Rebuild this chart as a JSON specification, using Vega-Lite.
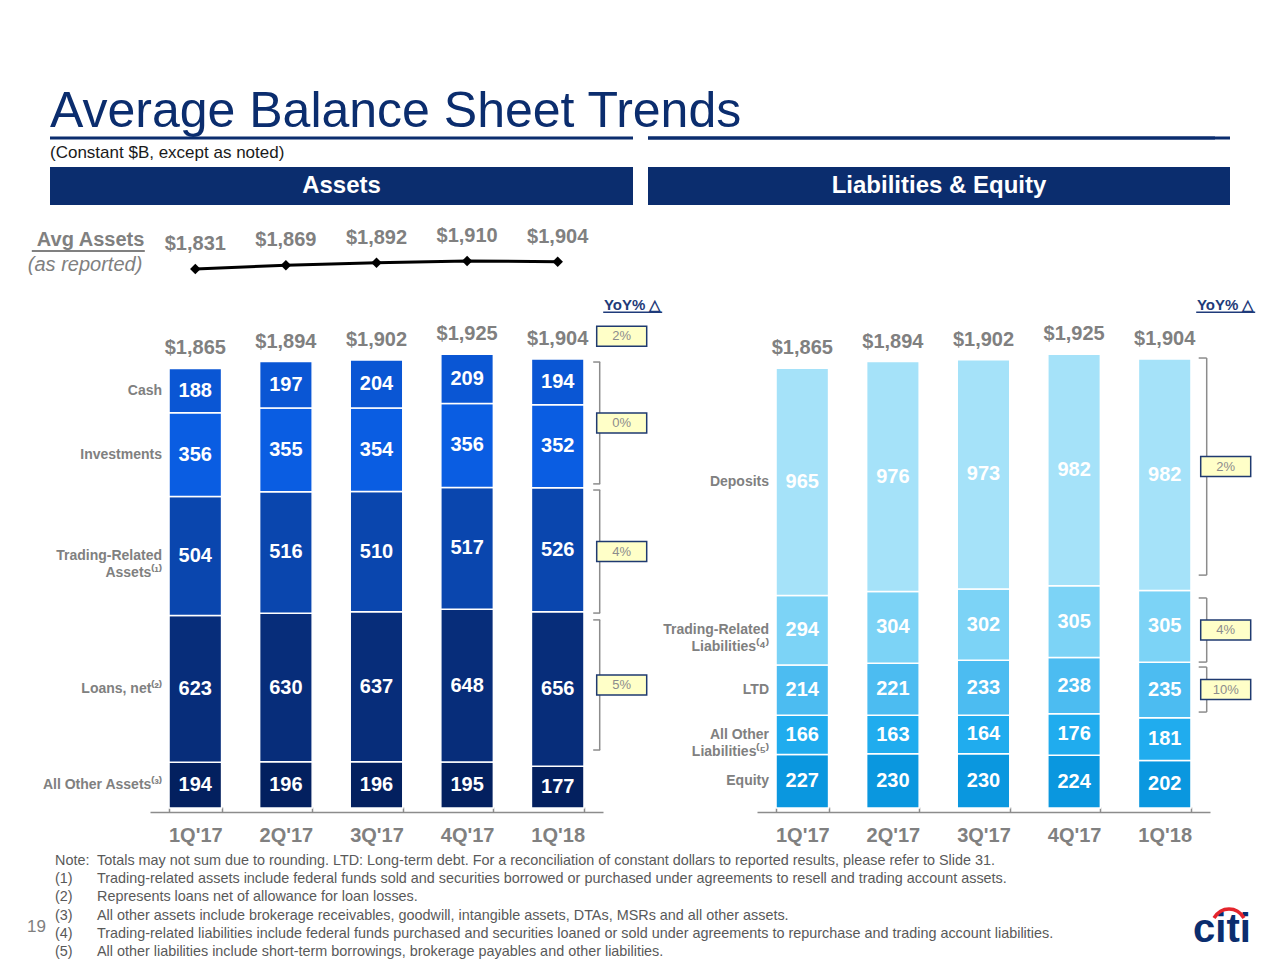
{
  "$schema": "https://vega.github.io/schema/vega-lite/v6.json",
  "background": "white",
  "padding": {"left": 27, "top": 86, "right": 5, "bottom": 0},
  "config": {"view": {"stroke": null}, "font": "Liberation Sans",
    "axisX": {"title": null, "labelAngle": 0, "domainColor": "#8C8C8C", "domainWidth": 1.5, "tickColor": "#8C8C8C", "tickWidth": 1.5, "tickSize": -5, "tickBand": "extent", "labelFontSize": 20, "labelFontWeight": "bold", "labelColor": "#808080", "labelPadding": 18, "offset": 4, "grid": false}},
  "title": {"text": "Average Balance Sheet Trends", "anchor": "start", "frame": "group", "fontSize": 50, "fontWeight": "normal", "color": "#0B2D6E", "offset": 0},
  "resolve": {"scale": {"color": "independent"}},
  "datasets": {
    "sections": [{"section": "Assets"}, {"section": "Liabilities & Equity"}],
    "avg": [
      {"quarter": "1Q'17", "avg": 1831},
      {"quarter": "2Q'17", "avg": 1869},
      {"quarter": "3Q'17", "avg": 1892},
      {"quarter": "4Q'17", "avg": 1910},
      {"quarter": "1Q'18", "avg": 1904}
    ],
    "assets": [
      {"quarter": "1Q'17", "category": "All Other Assets⁽³⁾", "value": 194, "rank": 1},
      {"quarter": "1Q'17", "category": "Loans, net⁽²⁾", "value": 623, "rank": 2},
      {"quarter": "1Q'17", "category": "Trading-Related\nAssets⁽¹⁾", "value": 504, "rank": 3},
      {"quarter": "1Q'17", "category": "Investments", "value": 356, "rank": 4},
      {"quarter": "1Q'17", "category": "Cash", "value": 188, "rank": 5},
      {"quarter": "2Q'17", "category": "All Other Assets⁽³⁾", "value": 196, "rank": 1},
      {"quarter": "2Q'17", "category": "Loans, net⁽²⁾", "value": 630, "rank": 2},
      {"quarter": "2Q'17", "category": "Trading-Related\nAssets⁽¹⁾", "value": 516, "rank": 3},
      {"quarter": "2Q'17", "category": "Investments", "value": 355, "rank": 4},
      {"quarter": "2Q'17", "category": "Cash", "value": 197, "rank": 5},
      {"quarter": "3Q'17", "category": "All Other Assets⁽³⁾", "value": 196, "rank": 1},
      {"quarter": "3Q'17", "category": "Loans, net⁽²⁾", "value": 637, "rank": 2},
      {"quarter": "3Q'17", "category": "Trading-Related\nAssets⁽¹⁾", "value": 510, "rank": 3},
      {"quarter": "3Q'17", "category": "Investments", "value": 354, "rank": 4},
      {"quarter": "3Q'17", "category": "Cash", "value": 204, "rank": 5},
      {"quarter": "4Q'17", "category": "All Other Assets⁽³⁾", "value": 195, "rank": 1},
      {"quarter": "4Q'17", "category": "Loans, net⁽²⁾", "value": 648, "rank": 2},
      {"quarter": "4Q'17", "category": "Trading-Related\nAssets⁽¹⁾", "value": 517, "rank": 3},
      {"quarter": "4Q'17", "category": "Investments", "value": 356, "rank": 4},
      {"quarter": "4Q'17", "category": "Cash", "value": 209, "rank": 5},
      {"quarter": "1Q'18", "category": "All Other Assets⁽³⁾", "value": 177, "rank": 1},
      {"quarter": "1Q'18", "category": "Loans, net⁽²⁾", "value": 656, "rank": 2},
      {"quarter": "1Q'18", "category": "Trading-Related\nAssets⁽¹⁾", "value": 526, "rank": 3},
      {"quarter": "1Q'18", "category": "Investments", "value": 352, "rank": 4},
      {"quarter": "1Q'18", "category": "Cash", "value": 194, "rank": 5}
    ],
    "liabs": [
      {"quarter": "1Q'17", "category": "Equity", "value": 227, "rank": 1},
      {"quarter": "1Q'17", "category": "All Other\nLiabilities⁽⁵⁾", "value": 166, "rank": 2},
      {"quarter": "1Q'17", "category": "LTD", "value": 214, "rank": 3},
      {"quarter": "1Q'17", "category": "Trading-Related\nLiabilities⁽⁴⁾", "value": 294, "rank": 4},
      {"quarter": "1Q'17", "category": "Deposits", "value": 965, "rank": 5},
      {"quarter": "2Q'17", "category": "Equity", "value": 230, "rank": 1},
      {"quarter": "2Q'17", "category": "All Other\nLiabilities⁽⁵⁾", "value": 163, "rank": 2},
      {"quarter": "2Q'17", "category": "LTD", "value": 221, "rank": 3},
      {"quarter": "2Q'17", "category": "Trading-Related\nLiabilities⁽⁴⁾", "value": 304, "rank": 4},
      {"quarter": "2Q'17", "category": "Deposits", "value": 976, "rank": 5},
      {"quarter": "3Q'17", "category": "Equity", "value": 230, "rank": 1},
      {"quarter": "3Q'17", "category": "All Other\nLiabilities⁽⁵⁾", "value": 164, "rank": 2},
      {"quarter": "3Q'17", "category": "LTD", "value": 233, "rank": 3},
      {"quarter": "3Q'17", "category": "Trading-Related\nLiabilities⁽⁴⁾", "value": 302, "rank": 4},
      {"quarter": "3Q'17", "category": "Deposits", "value": 973, "rank": 5},
      {"quarter": "4Q'17", "category": "Equity", "value": 224, "rank": 1},
      {"quarter": "4Q'17", "category": "All Other\nLiabilities⁽⁵⁾", "value": 176, "rank": 2},
      {"quarter": "4Q'17", "category": "LTD", "value": 238, "rank": 3},
      {"quarter": "4Q'17", "category": "Trading-Related\nLiabilities⁽⁴⁾", "value": 305, "rank": 4},
      {"quarter": "4Q'17", "category": "Deposits", "value": 982, "rank": 5},
      {"quarter": "1Q'18", "category": "Equity", "value": 202, "rank": 1},
      {"quarter": "1Q'18", "category": "All Other\nLiabilities⁽⁵⁾", "value": 181, "rank": 2},
      {"quarter": "1Q'18", "category": "LTD", "value": 235, "rank": 3},
      {"quarter": "1Q'18", "category": "Trading-Related\nLiabilities⁽⁴⁾", "value": 305, "rank": 4},
      {"quarter": "1Q'18", "category": "Deposits", "value": 982, "rank": 5}
    ],
    "totals": [
      {"quarter": "1Q'17", "total": 1865},
      {"quarter": "2Q'17", "total": 1894},
      {"quarter": "3Q'17", "total": 1902},
      {"quarter": "4Q'17", "total": 1925},
      {"quarter": "1Q'18", "total": 1904}
    ],
    "totalYoY": [{"quarter": "1Q'18", "total": 1904, "yoy": "2%"}],
    "assetYoY": [
      {"item": "Cash & Investments", "yoy": "0%", "lo": 1375, "hi": 1892},
      {"item": "Trading-Related Assets", "yoy": "4%", "lo": 827, "hi": 1349},
      {"item": "Loans, net", "yoy": "5%", "lo": 246, "hi": 798}
    ],
    "liabYoY": [
      {"item": "Deposits", "yoy": "2%", "lo": 988, "hi": 1909},
      {"item": "Trading-Related Liabilities", "yoy": "4%", "lo": 619, "hi": 891},
      {"item": "LTD", "yoy": "10%", "lo": 407, "hi": 598}
    ],
    "notes": [
      {"n": 1, "mark": "Note:", "body": "Totals may not sum due to rounding.  LTD: Long-term debt.  For a reconciliation of constant dollars to reported results, please refer to Slide 31."},
      {"n": 2, "mark": "(1)", "body": "Trading-related assets include federal funds sold and securities borrowed or purchased under agreements to resell and trading account assets."},
      {"n": 3, "mark": "(2)", "body": "Represents loans net of allowance for loan losses."},
      {"n": 4, "mark": "(3)", "body": "All other assets include brokerage receivables, goodwill, intangible assets, DTAs, MSRs and all other assets."},
      {"n": 5, "mark": "(4)", "body": "Trading-related liabilities include federal funds purchased and securities loaned or sold under agreements to repurchase and trading account liabilities."},
      {"n": 6, "mark": "(5)", "body": "All other liabilities include short-term borrowings, brokerage payables and other liabilities."}
    ],
    "page": [{"page": "19"}],
    "logo": [{"brand": "citi"}]
  },
  "columns": 2,
  "spacing": {"row": 0, "column": 15},
  "bounds": "flush",
  "concat": [
    {
      "width": 583, "height": 29,
      "data": {"name": "sections"},
      "transform": [{"filter": {"field": "section", "equal": "Assets"}}],
      "mark": {"type": "rule", "color": "#0B2D6E", "strokeWidth": 3},
      "encoding": {"y": {"datum": 1, "type": "quantitative", "scale": {"domain": [0, 1]}, "axis": null}}
    },
    {
      "width": 582, "height": 29,
      "data": {"name": "sections"},
      "transform": [{"filter": {"field": "section", "equal": "Liabilities & Equity"}}],
      "layer": [
        {"mark": {"type": "rule", "color": "#0B2D6E", "strokeWidth": 3, "xOffset": -15},
         "encoding": {"y": {"datum": 1, "type": "quantitative", "scale": {"domain": [0, 1]}, "axis": null}}},
        {"mark": {"type": "rule", "color": "#0B2D6E", "strokeWidth": 3},
         "encoding": {"y": {"datum": 1, "type": "quantitative", "scale": {"domain": [0, 1]}, "axis": null}}}
      ]
    },
    {
      "width": 583, "height": 38,
      "data": {"name": "sections"},
      "transform": [{"filter": {"field": "section", "equal": "Assets"}}],
      "title": {"text": "(Constant $B, except as noted)", "anchor": "start", "fontSize": 17, "fontWeight": "normal", "color": "#1A1A1A", "offset": 5},
      "layer": [
        {"mark": {"type": "bar", "color": "#0B2D6E"},
         "encoding": {"x": {"field": "section", "type": "nominal", "axis": null, "scale": {"paddingInner": 0, "paddingOuter": 0}}}},
        {"mark": {"type": "text", "color": "white", "fontSize": 24, "fontWeight": "bold"},
         "encoding": {"x": {"field": "section", "type": "nominal", "axis": null}, "text": {"field": "section"}}}
      ]
    },
    {
      "width": 582, "height": 38,
      "data": {"name": "sections"},
      "transform": [{"filter": {"field": "section", "equal": "Liabilities & Equity"}}],
      "layer": [
        {"mark": {"type": "bar", "color": "#0B2D6E"},
         "encoding": {"x": {"field": "section", "type": "nominal", "axis": null, "scale": {"paddingInner": 0, "paddingOuter": 0}}}},
        {"mark": {"type": "text", "color": "white", "fontSize": 24, "fontWeight": "bold"},
         "encoding": {"x": {"field": "section", "type": "nominal", "axis": null}, "text": {"field": "section"}}}
      ]
    },
    {
      "width": 583, "height": 108,
      "data": {"name": "avg"},
      "encoding": {
        "x": {"field": "quarter", "type": "ordinal", "scale": {"domain": ["1Q'17", "2Q'17", "3Q'17", "4Q'17", "1Q'18"], "range": [100, 553], "paddingInner": 0.42, "paddingOuter": 0.21}, "axis": null},
        "y": {"field": "avg", "type": "quantitative", "scale": {"domain": [1397, 2463], "nice": false, "zero": false}, "axis": null}
      },
      "layer": [
        {"mark": {"type": "line", "color": "black", "strokeWidth": 3}},
        {"mark": {"type": "point", "shape": "diamond", "filled": true, "color": "black", "size": 110, "opacity": 1}},
        {"mark": {"type": "text", "fontSize": 20, "fontWeight": "bold", "color": "#808080", "dy": -25},
         "encoding": {"text": {"field": "avg", "type": "quantitative", "format": "$,d"}}},
        {"transform": [{"filter": {"field": "quarter", "equal": "1Q'17"}}],
         "mark": {"type": "text", "align": "right", "dx": -51, "dy": -29, "fontSize": 20, "fontWeight": "bold", "color": "#808080"},
         "encoding": {"text": {"value": "Avg Assets"}}},
        {"transform": [{"filter": {"field": "quarter", "equal": "1Q'17"}}],
         "mark": {"type": "text", "align": "right", "dx": -53, "dy": -4, "fontSize": 20, "fontStyle": "italic", "color": "#808080"},
         "encoding": {"text": {"value": "(as reported)"}}},
        {"transform": [{"filter": {"field": "quarter", "equal": "1Q'17"}}],
         "mark": {"type": "tick", "orient": "horizontal", "size": 113, "thickness": 2, "color": "#808080", "opacity": 1, "xOffset": -107, "yOffset": -18}}
      ]
    },
    {
      "width": 582, "height": 108,
      "data": {"values": []},
      "mark": "point"
    },
    {
      "width": 583, "height": 495,
      "encoding": {
        "x": {"field": "quarter", "type": "ordinal", "scale": {"domain": ["1Q'17", "2Q'17", "3Q'17", "4Q'17", "1Q'18"], "range": [100, 553], "paddingInner": 0.42, "paddingOuter": 0.21}}
      },
      "layer": [
        {"data": {"name": "assets"},
         "mark": {"type": "bar", "stroke": "white", "strokeWidth": 1.5},
         "encoding": {
           "y": {"field": "value", "type": "quantitative", "stack": "zero", "scale": {"domain": [0, 2100], "nice": false}, "axis": null},
           "color": {"field": "category", "type": "nominal", "legend": null,
                     "scale": {"domain": ["All Other Assets⁽³⁾", "Loans, net⁽²⁾", "Trading-Related\nAssets⁽¹⁾", "Investments", "Cash"],
                               "range": ["#03205F", "#072D7A", "#0A46AE", "#0A5DE2", "#0A56D4"]}},
           "order": {"field": "rank", "type": "quantitative"}
         }},
        {"data": {"name": "assets"},
         "mark": {"type": "text", "color": "white", "fontSize": 20, "fontWeight": "bold"},
         "encoding": {
           "y": {"field": "value", "type": "quantitative", "stack": "zero", "bandPosition": 0.5, "scale": {"domain": [0, 2100], "nice": false}, "axis": null},
           "detail": {"field": "category"},
           "order": {"field": "rank", "type": "quantitative"},
           "text": {"field": "value", "type": "quantitative"}
         }},
        {"data": {"name": "assets"},
         "transform": [{"filter": {"field": "quarter", "equal": "1Q'17"}}],
         "mark": {"type": "text", "align": "right", "dx": -7, "fontSize": 14, "fontWeight": "bold", "color": "#808080", "lineBreak": "\n", "lineHeight": 17},
         "encoding": {
           "x": {"field": "quarter", "type": "ordinal", "bandPosition": 0},
           "y": {"field": "value", "type": "quantitative", "stack": "zero", "bandPosition": 0.5, "scale": {"domain": [0, 2100], "nice": false}, "axis": null},
           "detail": {"field": "category"},
           "order": {"field": "rank", "type": "quantitative"},
           "text": {"field": "category"}
         }},
        {"data": {"name": "totals"},
         "mark": {"type": "text", "fontSize": 20, "fontWeight": "bold", "color": "#808080", "dy": -20},
         "encoding": {
           "y": {"field": "total", "type": "quantitative", "scale": {"domain": [0, 2100], "nice": false}, "axis": null},
           "text": {"field": "total", "type": "quantitative", "format": "$,d"}
         }},
        {"data": {"name": "assetYoY"},
         "mark": {"type": "rule", "color": "#8C8C8C", "strokeWidth": 1.5, "xOffset": 42},
         "encoding": {
           "x": {"datum": "1Q'18", "type": "ordinal"},
           "y": {"field": "lo", "type": "quantitative", "scale": {"domain": [0, 2100], "nice": false}, "axis": null},
           "y2": {"field": "hi"}
         }},
        {"data": {"name": "assetYoY"},
         "mark": {"type": "tick", "orient": "horizontal", "size": 7, "thickness": 1.5, "color": "#8C8C8C", "opacity": 1, "xOffset": 39},
         "encoding": {
           "x": {"datum": "1Q'18", "type": "ordinal"},
           "y": {"field": "hi", "type": "quantitative", "scale": {"domain": [0, 2100], "nice": false}, "axis": null}
         }},
        {"data": {"name": "assetYoY"},
         "mark": {"type": "tick", "orient": "horizontal", "size": 7, "thickness": 1.5, "color": "#8C8C8C", "opacity": 1, "xOffset": 39},
         "encoding": {
           "x": {"datum": "1Q'18", "type": "ordinal"},
           "y": {"field": "lo", "type": "quantitative", "scale": {"domain": [0, 2100], "nice": false}, "axis": null}
         }},
        {"data": {"name": "assetYoY"},
         "transform": [{"fold": ["lo", "hi"], "as": ["end", "v"]}],
         "mark": {"type": "point", "shape": "M-1.25,-0.5H1.25V0.5H-1.25Z", "size": 1600, "filled": true, "fill": "#FFFFC8", "stroke": "#1F3A70", "strokeWidth": 1.5, "opacity": 1, "xOffset": 64},
         "encoding": {
           "x": {"datum": "1Q'18", "type": "ordinal"},
           "y": {"aggregate": "mean", "field": "v", "type": "quantitative", "scale": {"domain": [0, 2100], "nice": false}, "axis": null},
           "detail": {"field": "item"}
         }},
        {"data": {"name": "assetYoY"},
         "transform": [{"fold": ["lo", "hi"], "as": ["end", "v"]}],
         "mark": {"type": "text", "fontSize": 13, "color": "#8C8C8C", "dx": 64},
         "encoding": {
           "x": {"datum": "1Q'18", "type": "ordinal"},
           "y": {"aggregate": "mean", "field": "v", "type": "quantitative", "scale": {"domain": [0, 2100], "nice": false}, "axis": null},
           "detail": {"field": "item"},
           "text": {"field": "yoy"}
         }},
        {"data": {"name": "totalYoY"},
         "mark": {"type": "point", "shape": "M-1.25,-0.5H1.25V0.5H-1.25Z", "size": 1600, "filled": true, "fill": "#FFFFC8", "stroke": "#1F3A70", "strokeWidth": 1.5, "opacity": 1, "xOffset": 64, "yOffset": -23},
         "encoding": {
           "y": {"field": "total", "type": "quantitative", "scale": {"domain": [0, 2100], "nice": false}, "axis": null}
         }},
        {"data": {"name": "totalYoY"},
         "mark": {"type": "text", "fontSize": 13, "color": "#8C8C8C", "dx": 64, "dy": -23},
         "encoding": {
           "y": {"field": "total", "type": "quantitative", "scale": {"domain": [0, 2100], "nice": false}, "axis": null},
           "text": {"field": "yoy"}
         }},
        {"data": {"name": "totalYoY"},
         "mark": {"type": "text", "fontSize": 15, "fontWeight": "bold", "color": "#1F3B7A", "dx": 75, "dy": -54},
         "encoding": {
           "y": {"field": "total", "type": "quantitative", "scale": {"domain": [0, 2100], "nice": false}, "axis": null},
           "text": {"value": "YoY% △"}
         }},
        {"data": {"name": "totalYoY"},
         "mark": {"type": "tick", "orient": "horizontal", "size": 59, "thickness": 1.5, "color": "#1F3B7A", "opacity": 1, "xOffset": 75, "yOffset": -47},
         "encoding": {
           "y": {"field": "total", "type": "quantitative", "scale": {"domain": [0, 2100], "nice": false}, "axis": null}
         }}
      ]
    },
    {
      "width": 582, "height": 495,
      "encoding": {
        "x": {"field": "quarter", "type": "ordinal", "scale": {"domain": ["1Q'17", "2Q'17", "3Q'17", "4Q'17", "1Q'18"], "range": [109, 562], "paddingInner": 0.42, "paddingOuter": 0.21}}
      },
      "layer": [
        {"data": {"name": "liabs"},
         "mark": {"type": "bar", "stroke": "white", "strokeWidth": 1.5},
         "encoding": {
           "y": {"field": "value", "type": "quantitative", "stack": "zero", "scale": {"domain": [0, 2100], "nice": false}, "axis": null},
           "color": {"field": "category", "type": "nominal", "legend": null,
                     "scale": {"domain": ["Equity", "All Other\nLiabilities⁽⁵⁾", "LTD", "Trading-Related\nLiabilities⁽⁴⁾", "Deposits"],
                               "range": ["#0A97DF", "#20ACEE", "#4CBCF1", "#7CD3F6", "#A5E2F9"]}},
           "order": {"field": "rank", "type": "quantitative"}
         }},
        {"data": {"name": "liabs"},
         "mark": {"type": "text", "color": "white", "fontSize": 20, "fontWeight": "bold"},
         "encoding": {
           "y": {"field": "value", "type": "quantitative", "stack": "zero", "bandPosition": 0.5, "scale": {"domain": [0, 2100], "nice": false}, "axis": null},
           "detail": {"field": "category"},
           "order": {"field": "rank", "type": "quantitative"},
           "text": {"field": "value", "type": "quantitative"}
         }},
        {"data": {"name": "liabs"},
         "transform": [{"filter": {"field": "quarter", "equal": "1Q'17"}}],
         "mark": {"type": "text", "align": "right", "dx": -7, "fontSize": 14, "fontWeight": "bold", "color": "#808080", "lineBreak": "\n", "lineHeight": 17},
         "encoding": {
           "x": {"field": "quarter", "type": "ordinal", "bandPosition": 0},
           "y": {"field": "value", "type": "quantitative", "stack": "zero", "bandPosition": 0.5, "scale": {"domain": [0, 2100], "nice": false}, "axis": null},
           "detail": {"field": "category"},
           "order": {"field": "rank", "type": "quantitative"},
           "text": {"field": "category"}
         }},
        {"data": {"name": "totals"},
         "mark": {"type": "text", "fontSize": 20, "fontWeight": "bold", "color": "#808080", "dy": -20},
         "encoding": {
           "y": {"field": "total", "type": "quantitative", "scale": {"domain": [0, 2100], "nice": false}, "axis": null},
           "text": {"field": "total", "type": "quantitative", "format": "$,d"}
         }},
        {"data": {"name": "liabYoY"},
         "mark": {"type": "rule", "color": "#8C8C8C", "strokeWidth": 1.5, "xOffset": 42},
         "encoding": {
           "x": {"datum": "1Q'18", "type": "ordinal"},
           "y": {"field": "lo", "type": "quantitative", "scale": {"domain": [0, 2100], "nice": false}, "axis": null},
           "y2": {"field": "hi"}
         }},
        {"data": {"name": "liabYoY"},
         "mark": {"type": "tick", "orient": "horizontal", "size": 8, "thickness": 1.5, "color": "#8C8C8C", "opacity": 1, "xOffset": 38},
         "encoding": {
           "x": {"datum": "1Q'18", "type": "ordinal"},
           "y": {"field": "hi", "type": "quantitative", "scale": {"domain": [0, 2100], "nice": false}, "axis": null}
         }},
        {"data": {"name": "liabYoY"},
         "mark": {"type": "tick", "orient": "horizontal", "size": 8, "thickness": 1.5, "color": "#8C8C8C", "opacity": 1, "xOffset": 38},
         "encoding": {
           "x": {"datum": "1Q'18", "type": "ordinal"},
           "y": {"field": "lo", "type": "quantitative", "scale": {"domain": [0, 2100], "nice": false}, "axis": null}
         }},
        {"data": {"name": "liabYoY"},
         "transform": [{"fold": ["lo", "hi"], "as": ["end", "v"]}],
         "mark": {"type": "point", "shape": "M-1.25,-0.5H1.25V0.5H-1.25Z", "size": 1600, "filled": true, "fill": "#FFFFC8", "stroke": "#1F3A70", "strokeWidth": 1.5, "opacity": 1, "xOffset": 61},
         "encoding": {
           "x": {"datum": "1Q'18", "type": "ordinal"},
           "y": {"aggregate": "mean", "field": "v", "type": "quantitative", "scale": {"domain": [0, 2100], "nice": false}, "axis": null},
           "detail": {"field": "item"}
         }},
        {"data": {"name": "liabYoY"},
         "transform": [{"fold": ["lo", "hi"], "as": ["end", "v"]}],
         "mark": {"type": "text", "fontSize": 13, "color": "#8C8C8C", "dx": 61},
         "encoding": {
           "x": {"datum": "1Q'18", "type": "ordinal"},
           "y": {"aggregate": "mean", "field": "v", "type": "quantitative", "scale": {"domain": [0, 2100], "nice": false}, "axis": null},
           "detail": {"field": "item"},
           "text": {"field": "yoy"}
         }},
        {"data": {"name": "totalYoY"},
         "mark": {"type": "text", "fontSize": 15, "fontWeight": "bold", "color": "#1F3B7A", "dx": 61, "dy": -54},
         "encoding": {
           "y": {"field": "total", "type": "quantitative", "scale": {"domain": [0, 2100], "nice": false}, "axis": null},
           "text": {"value": "YoY% △"}
         }},
        {"data": {"name": "totalYoY"},
         "mark": {"type": "tick", "orient": "horizontal", "size": 59, "thickness": 1.5, "color": "#1F3B7A", "opacity": 1, "xOffset": 61, "yOffset": -47},
         "encoding": {
           "y": {"field": "total", "type": "quantitative", "scale": {"domain": [0, 2100], "nice": false}, "axis": null}
         }}
      ]
    },
    {
      "width": 583, "height": 152,
      "layer": [
        {"data": {"name": "notes"},
         "mark": {"type": "text", "align": "left", "fontSize": 14.4, "color": "#595959"},
         "encoding": {
           "x": {"value": 5},
           "y": {"field": "n", "type": "ordinal", "scale": {"type": "point", "range": [53, 144], "padding": 0}, "axis": null},
           "text": {"field": "mark"}
         }},
        {"data": {"name": "notes"},
         "mark": {"type": "text", "align": "left", "fontSize": 14.4, "color": "#595959"},
         "encoding": {
           "x": {"value": 47},
           "y": {"field": "n", "type": "ordinal", "scale": {"type": "point", "range": [53, 144], "padding": 0}, "axis": null},
           "text": {"field": "body"}
         }},
        {"data": {"name": "page"},
         "mark": {"type": "text", "align": "left", "fontSize": 17, "color": "#808080"},
         "encoding": {"x": {"value": -23}, "y": {"value": 119}, "text": {"field": "page"}}}
      ]
    },
    {
      "width": 582, "height": 152,
      "data": {"name": "logo"},
      "layer": [
        {"mark": {"type": "text", "fontSize": 40, "fontWeight": "bold", "color": "#0B2D6E", "baseline": "alphabetic"},
         "encoding": {"x": {"value": 574}, "y": {"value": 134}, "text": {"field": "brand"}}},
        {"mark": {"type": "point", "shape": "M-1,0.4C-0.5,-0.4 0.5,-0.4 1,0.4", "size": 900, "filled": false, "color": "#E4252C", "strokeWidth": 3.5, "opacity": 1},
         "encoding": {"x": {"value": 581}, "y": {"value": 104}}}
      ]
    }
  ]
}
